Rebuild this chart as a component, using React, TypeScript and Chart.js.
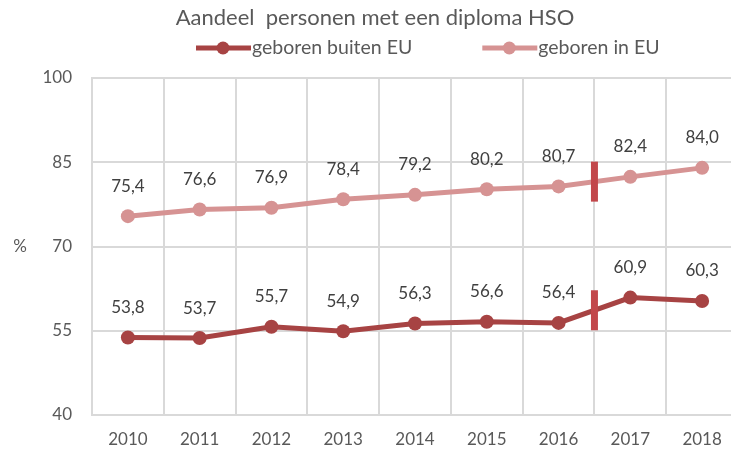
import React, { useEffect, useRef } from "react";
import { Chart, registerables } from "chart.js";

Chart.register(...registerables);

const TITLE = "Aandeel  personen met een diploma HSO";
const categories = ["2010", "2011", "2012", "2013", "2014", "2015", "2016", "2017", "2018"];
const seriesNames = ["geboren buiten EU", "geboren in EU"];
const buitenEU = [53.8, 53.7, 55.7, 54.9, 56.3, 56.6, 56.4, 60.9, 60.3];
const inEU = [75.4, 76.6, 76.9, 78.4, 79.2, 80.2, 80.7, 82.4, 84.0];
const yMin = 40;
const yMax = 100;
const yStep = 15;
const breakAfterIndex = 6; // series break between 2016 and 2017
const yAxisLabel = "%";

const DARK = "#A74343";
const PINK = "#D69393";
const BREAK = "#C2474B";
const TEXT = "#595959";
const LABEL = "#404040";
const GRID = "#D9D9D9";
const FONT = "Lato, 'Open Sans', sans-serif";

const fmt = (v: number) => v.toFixed(1).replace(".", ",");

const decorPlugin = {
  id: "decor",
  afterDatasetsDraw(chart: any) {
    const { ctx, chartArea, scales } = chart;
    const xs = scales.x;
    ctx.save();
    // break markers
    chart.data.datasets.forEach((ds: any, di: number) => {
      const meta = chart.getDatasetMeta(di);
      const a = meta.data[breakAfterIndex];
      const b = meta.data[breakAfterIndex + 1];
      if (!a || !b) return;
      const x = xs.getPixelForValue(breakAfterIndex + 0.5);
      const y = (a.y + b.y) / 2;
      ctx.strokeStyle = BREAK;
      ctx.lineWidth = 7;
      ctx.beginPath();
      ctx.moveTo(x, y - 20);
      ctx.lineTo(x, y + 20);
      ctx.stroke();
    });
    // data labels
    ctx.fillStyle = LABEL;
    ctx.font = `17px ${FONT}`;
    ctx.textAlign = "center";
    ctx.textBaseline = "middle";
    chart.data.datasets.forEach((ds: any, di: number) => {
      const meta = chart.getDatasetMeta(di);
      meta.data.forEach((el: any, i: number) => {
        ctx.fillText(fmt(ds.data[i]), el.x, el.y - 30);
      });
    });
    // title
    ctx.fillStyle = TEXT;
    ctx.font = `22px ${FONT}`;
    ctx.fillText(TITLE, 375, 18);
    // legend
    ctx.font = `19.5px ${FONT}`;
    ctx.textAlign = "left";
    let lx = 196;
    const ly = 48;
    chart.data.datasets.forEach((ds: any) => {
      ctx.strokeStyle = ds.borderColor;
      ctx.lineWidth = 5;
      ctx.beginPath();
      ctx.moveTo(lx, ly);
      ctx.lineTo(lx + 55, ly);
      ctx.stroke();
      ctx.fillStyle = ds.borderColor;
      ctx.beginPath();
      ctx.arc(lx + 27, ly, 6.5, 0, Math.PI * 2);
      ctx.fill();
      ctx.fillStyle = TEXT;
      ctx.fillText(ds.label, lx + 56, ly);
      lx += 56 + ctx.measureText(ds.label).width + 70;
    });
    // y axis label
    ctx.textAlign = "center";
    ctx.font = `17px ${FONT}`;
    ctx.fillText(yAxisLabel, 20, (chartArea.top + chartArea.bottom) / 2);
    ctx.restore();
  },
};

export default function App() {
  const ref = useRef<HTMLCanvasElement>(null);
  useEffect(() => {
    if (!ref.current) return;
    const chart = new Chart(ref.current, {
      type: "line",
      data: {
        labels: categories,
        datasets: [
          {
            label: seriesNames[0],
            data: buitenEU,
            borderColor: DARK,
            backgroundColor: DARK,
            borderWidth: 5,
            pointRadius: 7,
            pointBackgroundColor: DARK,
            pointBorderWidth: 0,
            tension: 0,
          },
          {
            label: seriesNames[1],
            data: inEU,
            borderColor: PINK,
            backgroundColor: PINK,
            borderWidth: 5,
            pointRadius: 7,
            pointBackgroundColor: PINK,
            pointBorderWidth: 0,
            tension: 0,
          },
        ],
      },
      options: {
        responsive: false,
        animation: false,
        events: [],
        layout: { padding: { top: 78, right: 5, left: 0, bottom: 0 } },
        plugins: {
          legend: { display: false },
          title: { display: false },
          tooltip: { enabled: false },
        },
        scales: {
          x: {
            offset: true,
            grid: { offset: true, color: GRID, lineWidth: 2, drawTicks: false },
            border: { color: GRID, width: 2 },
            ticks: { color: TEXT, font: { family: FONT, size: 17 }, padding: 14 },
            afterFit: (s: any) => {
              s.height = 42;
            },
          },
          y: {
            min: yMin,
            max: yMax,
            ticks: {
              stepSize: yStep,
              color: TEXT,
              font: { family: FONT, size: 17 },
              padding: 20,
            },
            grid: { color: GRID, lineWidth: 2, drawTicks: false },
            border: { color: GRID, width: 2 },
            afterFit: (s: any) => {
              s.width = 92;
            },
          },
        },
      },
      plugins: [decorPlugin],
    });
    return () => chart.destroy();
  }, []);
  return (
    <div style={{ position: "fixed", left: 0, top: 0, width: 731, height: 457, overflow: "hidden", background: "#fff" }}>
      <canvas ref={ref} width={745} height={457} style={{ display: "block" }} />
    </div>
  );
}
